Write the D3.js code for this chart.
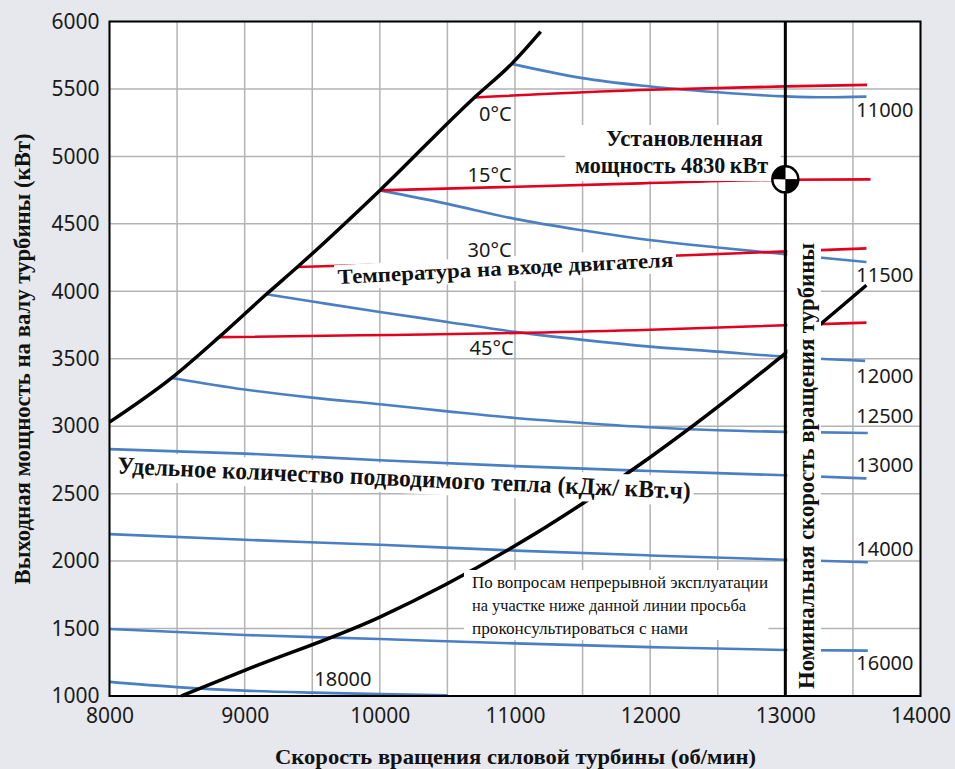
<!DOCTYPE html>
<html>
<head>
<meta charset="utf-8">
<script src="https://cdn.jsdelivr.net/npm/d3@7"></script>
<style>
body { margin: 0; background: #e6e8ed; }
svg { display: block; }
.tick text { font-family: "Noto Sans", sans-serif; font-size: 21px; fill: #1a1a1a; }
.num { font-family: "Noto Sans", sans-serif; font-size: 20px; fill: #1a1a1a; }
.serif { font-family: "Liberation Serif", "Times New Roman", serif; fill: #111; }
.bold { font-weight: bold; }
</style>
</head>
<body>
<div id="chart"></div>
<script>
// axis ticks
const xTicks = [8000, 9000, 10000, 11000, 12000, 13000, 14000];
const yTicks = [1000, 1500, 2000, 2500, 3000, 3500, 4000, 4500, 5000, 5500, 6000];

// black limit curves [rpm, kW]
const envelope = [[8000, 3030], [8460, 3358], [8810, 3660], [9160, 3978], [9390, 4180],
                  [10000, 4748], [10700, 5437], [10975, 5686], [11190, 5925]];
const lowerLimit = [[8530, 1000], [9000, 1190], [10000, 1585], [11000, 2113],
                    [12000, 2770], [13000, 3540], [13600, 4045]];

// inlet temperature lines
const tempLabels = ["0°C", "15°C", "30°C", "45°C"];
const temp0 = [[10700, 5437], [11930, 5492], [13000, 5519], [13605, 5530]];
const temp15 = [[10000, 4748], [11930, 4800], [13000, 4827], [13630, 4830]];
const temp30 = [[9390, 4180], [11920, 4254], [13600, 4318]];
const temp45 = [[8810, 3660], [11890, 3711], [13600, 3768]];

// heat rate lines
const heatLabels = ["11000", "11500", "12000", "12500", "13000", "14000", "16000", "18000"];
const hr11000 = [[10975, 5686], [11500, 5580], [11930, 5525], [12500, 5475], [13000, 5445], [13300, 5438], [13600, 5443]];
const hr11500 = [[10000, 4748], [10500, 4648], [11000, 4537], [11500, 4452], [11920, 4390], [12500, 4325], [13000, 4275], [13600, 4217]];
const hr12000 = [[9160, 3978], [9560, 3915], [10000, 3847], [10500, 3773], [11000, 3699], [11500, 3640], [12000, 3590], [12500, 3553], [13000, 3515], [13590, 3484]];
const hr12500 = [[8460, 3358], [9000, 3272], [9500, 3212], [10000, 3163], [10500, 3110], [11000, 3061], [11500, 3024], [12000, 2992], [12500, 2970], [13000, 2958], [13610, 2950]];
const hr13000 = [[8000, 2830], [9000, 2797], [10000, 2748], [11000, 2704], [12000, 2668], [13000, 2636], [13600, 2613]];
const hr14000 = [[8000, 2200], [9000, 2158], [10000, 2121], [11000, 2078], [12000, 2042], [13000, 2010], [13610, 1992]];
const hr16000 = [[8000, 1497], [9000, 1452], [10000, 1422], [11000, 1390], [12000, 1362], [13000, 1341], [13610, 1336]];
const hr18000 = [[8000, 1105], [8500, 1066], [9000, 1040], [9500, 1025], [10000, 1014], [10500, 1005]];

const ratedRpm = 13000;
const ratedPower = 4830;

// label anchors, data units
const tempLabelAt = [[10975, 5262], [10975, 4812], [10975, 4254], [10990, 3528]];
const heatLabelAt = [[13525, 5292], [13525, 4069], [13525, 3320], [13525, 3024], [13525, 2660], [13525, 2038], [13525, 1193], [9515, 1074]];

const W = 955, H = 769;
const plotL = 109.5, plotT = 21.5, plotR = 920.5, plotB = 696;

const svg = d3.select("#chart").append("svg")
    .attr("width", W)
    .attr("height", H);

svg.append("rect").attr("width", W).attr("height", H).attr("fill", "#e6e8ed");

const x = d3.scaleLinear().domain([8000, 14000]).range([plotL, plotR]);
const y = d3.scaleLinear().domain([1000, 6000]).range([plotB, plotT]);

svg.append("rect")
    .attr("x", plotL).attr("y", plotT)
    .attr("width", plotR - plotL).attr("height", plotB - plotT)
    .attr("fill", "#fff");

// grid every 500
svg.append("g").selectAll("line").data(x.ticks(12)).enter().append("line")
    .attr("x1", d => x(d)).attr("x2", d => x(d))
    .attr("y1", plotT).attr("y2", plotB)
    .attr("stroke", "#b3b3b3").attr("stroke-width", 1.5);
svg.append("g").selectAll("line").data(y.ticks(10)).enter().append("line")
    .attr("y1", d => y(d)).attr("y2", d => y(d))
    .attr("x1", plotL).attr("x2", plotR)
    .attr("stroke", "#b3b3b3").attr("stroke-width", 1.5);

const line = d3.line()
    .x(d => x(d[0]))
    .y(d => y(d[1]))
    .curve(d3.curveMonotoneX);

const blue = "#4a7fc4", red = "#e2001f";

[hr11000, hr11500, hr12000, hr12500, hr13000, hr14000, hr16000, hr18000].forEach(function (s) {
    svg.append("path").attr("d", line(s)).attr("fill", "none")
        .attr("stroke", blue).attr("stroke-width", 2.6);
});
[temp0, temp15, temp30, temp45].forEach(function (s) {
    svg.append("path").attr("d", line(s)).attr("fill", "none")
        .attr("stroke", red).attr("stroke-width", 2.6);
});
[envelope, lowerLimit].forEach(function (s) {
    svg.append("path").attr("d", line(s)).attr("fill", "none")
        .attr("stroke", "#000").attr("stroke-width", 3.5);
});

// text with white box behind it
function boxedText(g, lines, cls, size, pad) {
    const t = [];
    lines.forEach(function (l) {
        const el = g.append("text")
            .attr("class", cls)
            .attr("x", l.x).attr("y", l.y)
            .style("font-size", size + "px")
            .text(l.text);
        if (l.len) el.attr("textLength", l.len).attr("lengthAdjust", "spacingAndGlyphs");
        if (l.anchor) el.attr("text-anchor", l.anchor);
        t.push(el);
    });
    if (pad == null) return;
    let x0 = Infinity, y0 = Infinity, x1 = -Infinity, y1 = -Infinity;
    t.forEach(function (el) {
        const b = el.node().getBBox();
        x0 = Math.min(x0, b.x); y0 = Math.min(y0, b.y);
        x1 = Math.max(x1, b.x + b.width); y1 = Math.max(y1, b.y + b.height);
    });
    g.insert("rect", "text")
        .attr("x", x0 - pad[0]).attr("y", y0 - pad[1])
        .attr("width", x1 - x0 + pad[0] + pad[2]).attr("height", y1 - y0 + pad[1] + pad[3])
        .attr("fill", "#fff");
}

// temperature annotation
boxedText(svg.append("g").attr("transform", "translate(338,284) rotate(-2.96)"),
    [{x: 0, y: 0, text: "Температура на входе двигателя", len: 336}], "serif bold", 21, [3, 0, 3, 1]);

// heat rate annotation
boxedText(svg.append("g").attr("transform", "translate(117,473.5) rotate(2.55)"),
    [{x: 0, y: 0, text: "Удельное количество подводимого тепла (кДж/ кВт.ч)", len: 574}], "serif bold", 24.5, [3, 0, 3, 1]);

// rated power annotation
boxedText(svg.append("g"),
    [{x: 606, y: 146, text: "Установленная", len: 157},
     {x: 575, y: 173, text: "мощность 4830\u2009кВт", len: 193}], "serif bold", 23, [10, 1, 12, 3]);

// continuous operation note
boxedText(svg.append("g"),
    [{x: 472, y: 588, text: "По вопросам непрерывной эксплуатации", len: 296},
     {x: 472, y: 611, text: "на участке ниже данной линии  просьба", len: 274},
     {x: 472, y: 634, text: "проконсультироваться с нами", len: 216}], "serif", 16, [8, 4, 0, 2]);

// rated speed line and its label
const vg = svg.append("g").attr("transform", "translate(813.5,466) rotate(-90)");
const vt = vg.append("text").attr("class", "serif bold")
    .attr("text-anchor", "middle")
    .style("font-size", "24px")
    .attr("textLength", 446).attr("lengthAdjust", "spacingAndGlyphs")
    .text("Номинальная скорость вращения турбины");
const vb = vt.node().getBBox();
vg.insert("rect", "text")
    .attr("x", vb.x - 3).attr("y", x(ratedRpm) + 2 - 813.5)
    .attr("width", vb.width + 6).attr("height", 821 - x(ratedRpm) - 2)
    .attr("fill", "#fff");

svg.append("line")
    .attr("x1", x(ratedRpm)).attr("x2", x(ratedRpm))
    .attr("y1", plotT).attr("y2", plotB)
    .attr("stroke", "#000").attr("stroke-width", 3);

// curve labels
svg.append("g").selectAll("text").data(tempLabels).enter().append("text")
    .attr("class", "num")
    .attr("text-anchor", "end")
    .attr("x", (d, i) => x(tempLabelAt[i][0]))
    .attr("y", (d, i) => y(tempLabelAt[i][1]))
    .text(d => d);

svg.append("g").selectAll("text").data(heatLabels).enter().append("text")
    .attr("class", "num")
    .attr("x", (d, i) => x(heatLabelAt[i][0]))
    .attr("y", (d, i) => y(heatLabelAt[i][1]))
    .text(d => d);

// rated point marker
const mk = svg.append("g").attr("transform", "translate(" + x(ratedRpm) + "," + y(ratedPower) + ")");
const arc = d3.arc().innerRadius(0).outerRadius(13);
[[0, Math.PI / 2, "#fff"], [Math.PI / 2, Math.PI, "#000"], [Math.PI, Math.PI * 1.5, "#fff"], [Math.PI * 1.5, Math.PI * 2, "#000"]]
    .forEach(function (q) {
        mk.append("path").attr("d", arc({startAngle: q[0], endAngle: q[1]})).attr("fill", q[2]);
    });
mk.append("circle").attr("r", 13).attr("fill", "none").attr("stroke", "#000").attr("stroke-width", 2.5);

// frame
svg.append("rect")
    .attr("x", plotL).attr("y", plotT)
    .attr("width", plotR - plotL).attr("height", plotB - plotT)
    .attr("fill", "none").attr("stroke", "#000").attr("stroke-width", 2);

// axes
svg.append("g")
    .attr("transform", "translate(0," + plotB + ")")
    .call(d3.axisBottom(x).tickValues(xTicks).tickSize(0).tickPadding(12).tickFormat(d3.format("d")))
    .call(g => g.select(".domain").remove());

svg.append("g")
    .attr("transform", "translate(" + plotL + ",0)")
    .call(d3.axisLeft(y).tickValues(yTicks).tickSize(0).tickPadding(10).tickFormat(d3.format("d")))
    .call(g => g.select(".domain").remove());

// axis titles
svg.append("text").attr("class", "serif bold")
    .attr("x", 515.5).attr("y", 764)
    .attr("text-anchor", "middle")
    .style("font-size", "22px")
    .attr("textLength", 481).attr("lengthAdjust", "spacingAndGlyphs")
    .text("Скорость вращения силовой турбины (об/мин)");

svg.append("text").attr("class", "serif bold")
    .attr("transform", "translate(29.5,359) rotate(-90)")
    .attr("text-anchor", "middle")
    .style("font-size", "24px")
    .attr("textLength", 451).attr("lengthAdjust", "spacingAndGlyphs")
    .text("Выходная мощность на валу турбины (кВт)");
</script>
</body>
</html>
